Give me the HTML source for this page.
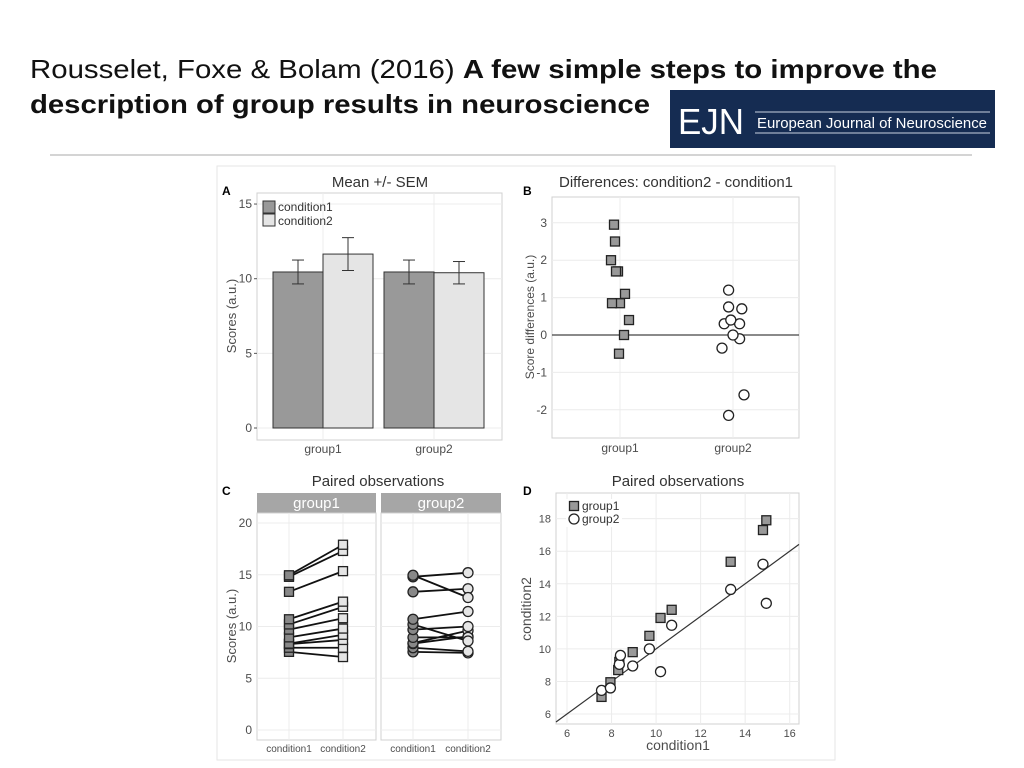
<!DOCTYPE html>
<html><head><meta charset="utf-8"><style>
body{margin:0;background:#fff;width:1024px;height:768px;overflow:hidden;font-family:"Liberation Sans",sans-serif}
svg{display:block}
text{font-family:"Liberation Sans",sans-serif}
</style></head><body>
<svg id="s" width="1024" height="768" xmlns="http://www.w3.org/2000/svg">
<text x="30" y="78" font-size="26" fill="#111" textLength="907" lengthAdjust="spacingAndGlyphs">Rousselet, Foxe &amp; Bolam (2016) <tspan font-weight="bold">A few simple steps to improve the</tspan></text>
<text x="30" y="113" font-size="26" font-weight="bold" fill="#111" textLength="620" lengthAdjust="spacingAndGlyphs">description of group results in neuroscience</text>
<g>
<rect x="670" y="90" width="325" height="58" fill="#152c52"/>
<text x="678" y="134" font-size="36" fill="#fff" textLength="66" lengthAdjust="spacingAndGlyphs">EJN</text>
<line x1="755" y1="112" x2="990" y2="112" stroke="#c9d2e0" stroke-width="1"/>
<line x1="755" y1="133" x2="990" y2="133" stroke="#c9d2e0" stroke-width="1"/>
<text x="757" y="128" font-size="15" fill="#fff" textLength="230" lengthAdjust="spacingAndGlyphs">European Journal of Neuroscience</text>
</g>
<line x1="50" y1="155" x2="972" y2="155" stroke="#aaa" stroke-width="1"/>
<rect x="217" y="166" width="618" height="594" fill="#fff" stroke="#e6e6e6"/>
<g id="plots"></g>
</svg>
<script>
// Panel A data
const aGroups=['group1','group2'];
const aMeansC1=[10.45,10.45];
const aMeansC2=[11.65,10.4];
const aSemC1=[0.8,0.8];
const aSemC2=[1.1,0.75];
const aTicks=[0,5,10,15];
// Paired data
const g1c1=[7.55,7.95,8.3,8.35,8.95,9.7,10.2,10.7,13.35,14.8,14.95];
const g1c2=[7.05,7.95,8.7,9.2,9.8,10.8,11.9,12.4,15.35,17.3,17.9];
const g2c1=[7.55,7.95,8.35,8.4,8.95,9.7,10.2,10.7,13.35,14.8,14.95];
const g2c2=[7.45,7.6,9.05,9.6,8.95,10.0,8.6,11.45,13.65,15.2,12.8];
const jit1=[-0.1,0.4,0.9,0.0,-0.8,0.5,-0.2,-0.4,-0.9,-0.5,-0.6];
const jit2=[0.3,-0.5,0.4,-0.2,0.0,-0.4,0.5,-0.2,0.3,-0.1,-0.2];
const bTicks=[-2,-1,0,1,2,3];
const cTicks=[0,5,10,15,20];
const dTicks=[6,8,10,12,14,16];
const NS='http://www.w3.org/2000/svg';
const root=document.getElementById('plots');
function el(t,a,p){const e=document.createElementNS(NS,t);for(const k in a)e.setAttribute(k,a[k]);(p||root).appendChild(e);return e;}
function txt(x,y,s,size,anchor,fill,p,rot){const e=el('text',{x:x,y:y,'font-size':size,'text-anchor':anchor||'middle',fill:fill||'#4d4d4d'},p);if(rot)e.setAttribute('transform','rotate(-90 '+x+' '+y+')');e.textContent=s;return e;}
function panel(x0,y0,x1,y1){el('rect',{x:x0,y:y0,width:x1-x0,height:y1-y0,fill:'#fff',stroke:'#d0d0d0'});}
function hgrid(x0,x1,y){el('line',{x1:x0,x2:x1,y1:y,y2:y,stroke:'#ececec'});}
function vgrid(y0,y1,x){el('line',{x1:x,x2:x,y1:y0,y2:y1,stroke:'#ececec'});}
function sq(x,y,f){return el('rect',{x:x-4.5,y:y-4.5,width:9,height:9,fill:f,stroke:'#222','stroke-width':1.3});}
function ci(x,y,f){return el('circle',{cx:x,cy:y,r:5,fill:f,stroke:'#222','stroke-width':1.3});}

// ---- Panel A ----
const ay=v=>428-v*14.93;
panel(257,193,502,440);
aTicks.forEach(t=>{hgrid(257,502,ay(t));txt(252,ay(t)+4,String(t),12,'end');el('line',{x1:254,x2:257,y1:ay(t),y2:ay(t),stroke:'#555'});});
const aCenters=[323,434];
aGroups.forEach((g,i)=>{
 vgrid(193,440,aCenters[i]);
 const b1=el('rect',{x:aCenters[i]-50,y:ay(aMeansC1[i]),width:50,height:ay(0)-ay(aMeansC1[i]),fill:'#999',stroke:'#333'});
 
 const b2=el('rect',{x:aCenters[i],y:ay(aMeansC2[i]),width:50,height:ay(0)-ay(aMeansC2[i]),fill:'#e5e5e5',stroke:'#333'});
 
 [[aCenters[i]-25,aMeansC1[i],aSemC1[i]],[aCenters[i]+25,aMeansC2[i],aSemC2[i]]].forEach(([x,m,s])=>{
  el('line',{x1:x,x2:x,y1:ay(m-s),y2:ay(m+s),stroke:'#333'});
  el('line',{x1:x-6,x2:x+6,y1:ay(m-s),y2:ay(m-s),stroke:'#333'});
  el('line',{x1:x-6,x2:x+6,y1:ay(m+s),y2:ay(m+s),stroke:'#333'});});
 txt(aCenters[i],453,g,12);
});
txt(380,187,'Mean +/- SEM',15,'middle','#333');
txt(222,195,'A',12,'start','#000').setAttribute('font-weight','bold');
txt(236,316,'Scores (a.u.)',13,'middle','#4d4d4d',null,true);
el('rect',{x:263,y:201,width:12,height:12,fill:'#999',stroke:'#333'});
el('rect',{x:263,y:214,width:12,height:12,fill:'#e5e5e5',stroke:'#333'});
txt(278,211,'condition1',12,'start','#333');txt(278,225,'condition2',12,'start','#333');

// ---- Panel B ----
const by=v=>335-v*37.4;
panel(552,197,799,438);
bTicks.forEach(t=>{hgrid(552,799,by(t));txt(547,by(t)+4,String(t),12,'end');});
[620,733].forEach((x,i)=>{vgrid(197,438,x);txt(x,452,aGroups[i],12);});
el('line',{x1:552,x2:799,y1:by(0),y2:by(0),stroke:'#444','stroke-width':1.2});
g1c1.forEach((v,i)=>{const p=sq(620+jit1[i]*10,by(g1c2[i]-v),'#999');});
g2c1.forEach((v,i)=>{const p=ci(733+jit2[i]*22,by(g2c2[i]-v),'#fff');});
txt(676,187,'Differences: condition2 - condition1',15,'middle','#333');
txt(523,195,'B',12,'start','#000').setAttribute('font-weight','bold');
txt(534,317,'Score differences (a.u.)',12,'middle','#4d4d4d',null,true);

// ---- Panel C ----
const cy=v=>730-v*10.35;
const facets=[[257,376,289,343,g1c1,g1c2,'square','group1'],[381,501,413,468,g2c1,g2c2,'circle','group2']];
facets.forEach(([x0,x1,xa,xb,c1,c2,shape,name])=>{
 el('rect',{x:x0,y:493,width:x1-x0,height:20,fill:'#a6a6a6'});
 txt((x0+x1)/2,508,name,15,'middle','#fff');
 panel(x0,513,x1,740);
 cTicks.forEach(t=>hgrid(x0,x1,cy(t)));
 vgrid(513,740,xa);vgrid(513,740,xb);
 c1.forEach((v,i)=>{const l=el('line',{x1:xa,y1:cy(v),x2:xb,y2:cy(c2[i]),stroke:'#111','stroke-width':1.8});});
 c1.forEach((v,i)=>{
  const a=shape==='square'?sq(xa,cy(v),'#888'):ci(xa,cy(v),'#888');
  const b=shape==='square'?sq(xb,cy(c2[i]),'#e5e5e5'):ci(xb,cy(c2[i]),'#e5e5e5');});
 txt(xa,752,'condition1',10);txt(xb,752,'condition2',10);
});
cTicks.forEach(t=>txt(252,cy(t)+4,String(t),12,'end'));
txt(378,486,'Paired observations',15,'middle','#333');
txt(222,495,'C',12,'start','#000').setAttribute('font-weight','bold');
txt(236,626,'Scores (a.u.)',13,'middle','#4d4d4d',null,true);

// ---- Panel D ----
const dx=v=>567+(v-6)*22.27, dyy=v=>714-(v-6)*16.28;
panel(556,493,799,724);
dTicks.forEach(t=>{vgrid(493,724,dx(t));txt(dx(t),737,String(t),11);});
[6,8,10,12,14,16,18].forEach(t=>{hgrid(556,799,dyy(t));txt(551,dyy(t)+4,String(t),11,'end');});
const lo=Math.max(6-(567-556)/22.27, 6-(724-714)/16.28), hi=Math.min(6+(799-567)/22.27, 6+(714-493)/16.28);
el('line',{x1:dx(lo),y1:dyy(lo),x2:dx(hi),y2:dyy(hi),stroke:'#333','stroke-width':1.2});
g1c1.forEach((v,i)=>{const p=sq(dx(v),dyy(g1c2[i]),'#999');});
g2c1.forEach((v,i)=>{const p=ci(dx(v),dyy(g2c2[i]),'#fff');});
el('rect',{x:566,y:499,width:56,height:28,fill:'#fff'});
sq(574,506,'#999');ci(574,519,'#fff');
txt(582,510,'group1',12,'start','#333');txt(582,523,'group2',12,'start','#333');
txt(678,486,'Paired observations',15,'middle','#333');
txt(523,495,'D',12,'start','#000').setAttribute('font-weight','bold');
txt(678,750,'condition1',14,'middle','#4d4d4d');
txt(531,609,'condition2',14,'middle','#4d4d4d',null,true);
</script>
</body></html>
